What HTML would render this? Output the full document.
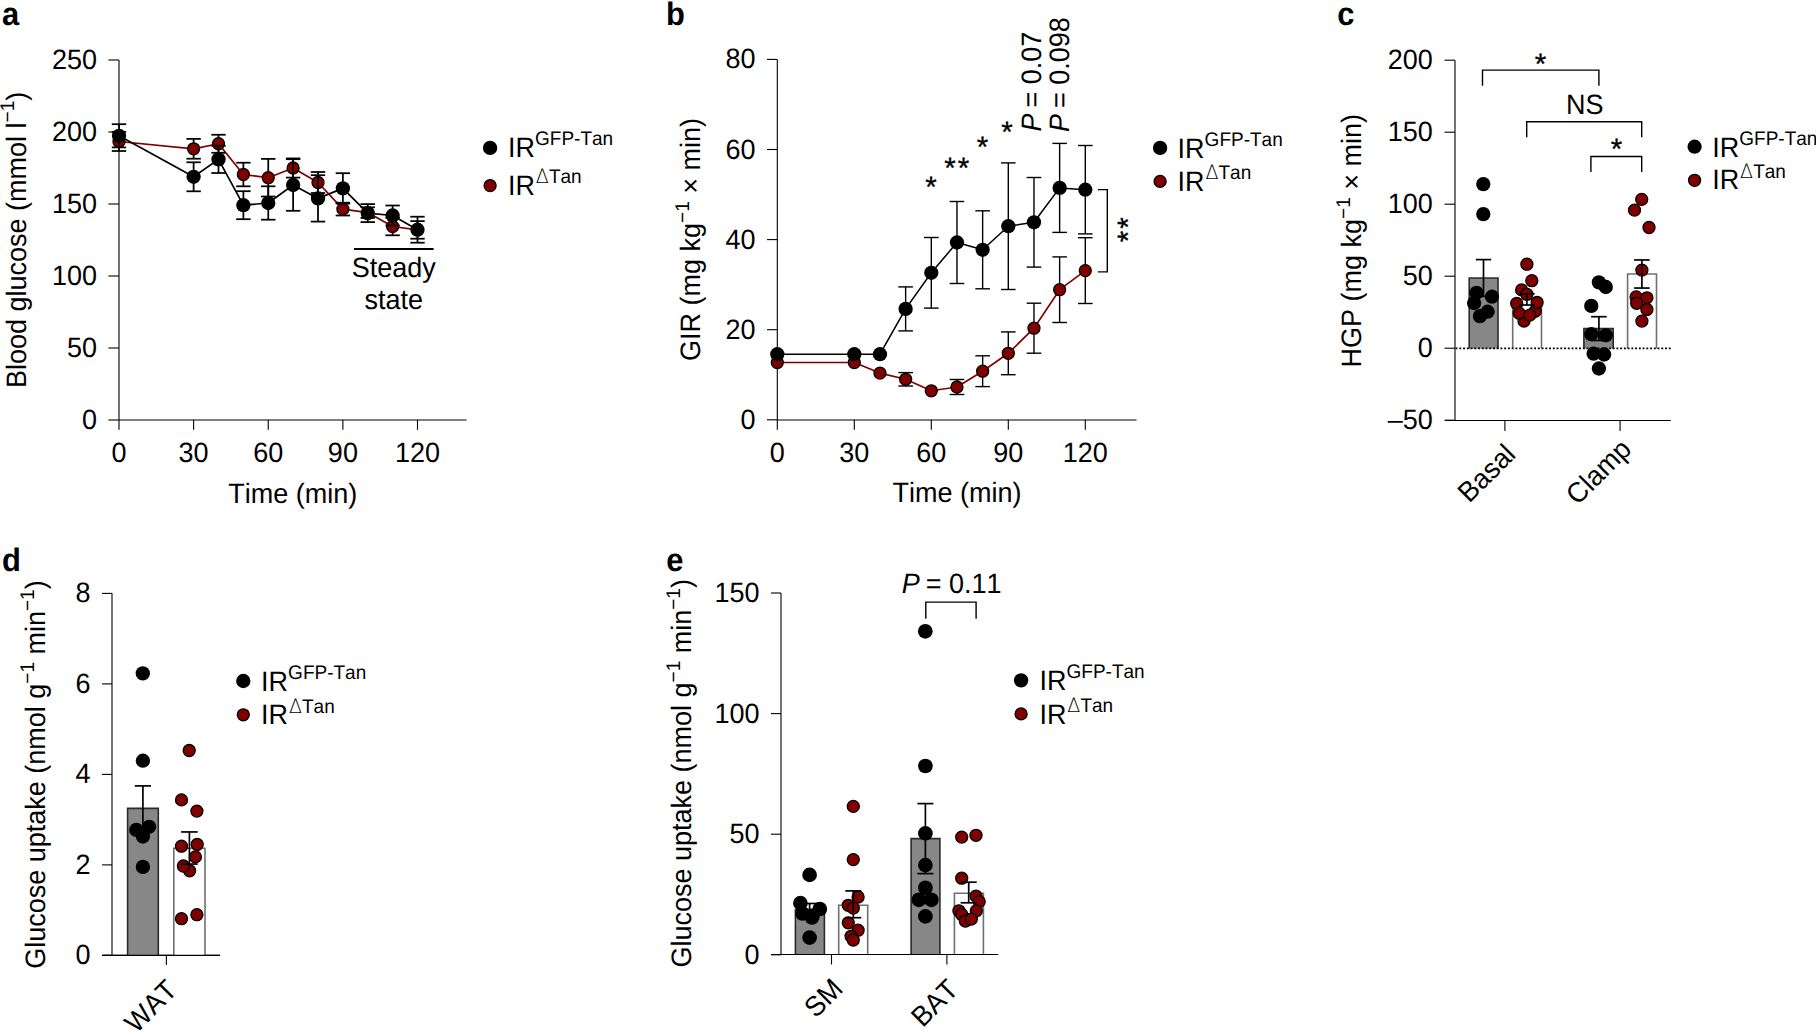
<!DOCTYPE html>
<html><head><meta charset="utf-8"><title>Figure</title>
<style>
html,body{margin:0;padding:0;background:#fff;}
body{width:1816px;height:1031px;overflow:hidden;}
svg{display:block;}
svg text{font-family:"Liberation Sans", Arial, Helvetica, sans-serif;fill:#000;font-kerning:none;font-feature-settings:"kern" 0;text-rendering:geometricPrecision;}
</style></head>
<body>
<svg width="1816" height="1031" viewBox="0 0 1816 1031">
<rect x="0" y="0" width="1816" height="1031" fill="#fff"/>
<text x="0" y="0" font-size="32.5" font-weight="bold" transform="translate(2 25) scale(0.95 1)">a</text>
<line x1="119" y1="60" x2="119" y2="420" stroke="#000" stroke-width="1.1"/>
<line x1="119" y1="420" x2="466.6" y2="420" stroke="#000" stroke-width="1.1"/>
<line x1="108.3" y1="420" x2="119" y2="420" stroke="#000" stroke-width="1.1"/>
<text font-size="27" text-anchor="end" transform="translate(97 429) scale(1 1.04)">0</text>
<line x1="108.3" y1="348" x2="119" y2="348" stroke="#000" stroke-width="1.1"/>
<text font-size="27" text-anchor="end" transform="translate(97 357) scale(1 1.04)">50</text>
<line x1="108.3" y1="276" x2="119" y2="276" stroke="#000" stroke-width="1.1"/>
<text font-size="27" text-anchor="end" transform="translate(97 285) scale(1 1.04)">100</text>
<line x1="108.3" y1="204" x2="119" y2="204" stroke="#000" stroke-width="1.1"/>
<text font-size="27" text-anchor="end" transform="translate(97 213) scale(1 1.04)">150</text>
<line x1="108.3" y1="132" x2="119" y2="132" stroke="#000" stroke-width="1.1"/>
<text font-size="27" text-anchor="end" transform="translate(97 141) scale(1 1.04)">200</text>
<line x1="108.3" y1="60" x2="119" y2="60" stroke="#000" stroke-width="1.1"/>
<text font-size="27" text-anchor="end" transform="translate(97 69) scale(1 1.04)">250</text>
<line x1="119" y1="420" x2="119" y2="429.8" stroke="#000" stroke-width="1.1"/>
<text font-size="27" text-anchor="middle" transform="translate(119 462) scale(1 1.04)">0</text>
<line x1="193.62" y1="420" x2="193.62" y2="429.8" stroke="#000" stroke-width="1.1"/>
<text font-size="27" text-anchor="middle" transform="translate(193.62 462) scale(1 1.04)">30</text>
<line x1="268.25" y1="420" x2="268.25" y2="429.8" stroke="#000" stroke-width="1.1"/>
<text font-size="27" text-anchor="middle" transform="translate(268.25 462) scale(1 1.04)">60</text>
<line x1="342.88" y1="420" x2="342.88" y2="429.8" stroke="#000" stroke-width="1.1"/>
<text font-size="27" text-anchor="middle" transform="translate(342.88 462) scale(1 1.04)">90</text>
<line x1="417.5" y1="420" x2="417.5" y2="429.8" stroke="#000" stroke-width="1.1"/>
<text font-size="27" text-anchor="middle" transform="translate(417.5 462) scale(1 1.04)">120</text>
<text font-size="27" text-anchor="middle" transform="translate(292.8 502.5) scale(1 1.04)">Time (min)</text>
<text font-size="27" text-anchor="middle" transform="translate(25.8 239.9) rotate(-90) scale(1 1.04)">Blood glucose (mmol l<tspan dy="-11.25" font-size="19">&#8722;1</tspan><tspan dy="11.25">)</tspan></text>
<polyline points="119,141.5 193.62,148.8 218.5,143.75 243.38,174.5 268.25,177.7 293.12,168 318,182.5 342.88,209.1 367.75,212.6 392.62,226.5 417.5,229.9" fill="none" stroke="#800000" stroke-width="1.7" stroke-linejoin="round"/>
<line x1="119" y1="132" x2="119" y2="151" stroke="#000" stroke-width="1.75"/>
<line x1="111.8" y1="132" x2="126.2" y2="132" stroke="#000" stroke-width="1.75"/>
<line x1="111.8" y1="151" x2="126.2" y2="151" stroke="#000" stroke-width="1.75"/>
<line x1="193.62" y1="138.9" x2="193.62" y2="158.7" stroke="#000" stroke-width="1.75"/>
<line x1="186.43" y1="138.9" x2="200.82" y2="138.9" stroke="#000" stroke-width="1.75"/>
<line x1="186.43" y1="158.7" x2="200.82" y2="158.7" stroke="#000" stroke-width="1.75"/>
<line x1="218.5" y1="134.75" x2="218.5" y2="152.75" stroke="#000" stroke-width="1.75"/>
<line x1="211.3" y1="134.75" x2="225.7" y2="134.75" stroke="#000" stroke-width="1.75"/>
<line x1="211.3" y1="152.75" x2="225.7" y2="152.75" stroke="#000" stroke-width="1.75"/>
<line x1="243.38" y1="162.7" x2="243.38" y2="186.3" stroke="#000" stroke-width="1.75"/>
<line x1="236.18" y1="162.7" x2="250.57" y2="162.7" stroke="#000" stroke-width="1.75"/>
<line x1="236.18" y1="186.3" x2="250.57" y2="186.3" stroke="#000" stroke-width="1.75"/>
<line x1="268.25" y1="158.9" x2="268.25" y2="196.5" stroke="#000" stroke-width="1.75"/>
<line x1="261.05" y1="158.9" x2="275.45" y2="158.9" stroke="#000" stroke-width="1.75"/>
<line x1="261.05" y1="196.5" x2="275.45" y2="196.5" stroke="#000" stroke-width="1.75"/>
<line x1="293.12" y1="158.4" x2="293.12" y2="177.6" stroke="#000" stroke-width="1.75"/>
<line x1="285.93" y1="158.4" x2="300.32" y2="158.4" stroke="#000" stroke-width="1.75"/>
<line x1="285.93" y1="177.6" x2="300.32" y2="177.6" stroke="#000" stroke-width="1.75"/>
<line x1="318" y1="172" x2="318" y2="193" stroke="#000" stroke-width="1.75"/>
<line x1="310.8" y1="172" x2="325.2" y2="172" stroke="#000" stroke-width="1.75"/>
<line x1="310.8" y1="193" x2="325.2" y2="193" stroke="#000" stroke-width="1.75"/>
<line x1="342.88" y1="202.7" x2="342.88" y2="215.5" stroke="#000" stroke-width="1.75"/>
<line x1="335.68" y1="202.7" x2="350.07" y2="202.7" stroke="#000" stroke-width="1.75"/>
<line x1="335.68" y1="215.5" x2="350.07" y2="215.5" stroke="#000" stroke-width="1.75"/>
<line x1="367.75" y1="207.3" x2="367.75" y2="217.9" stroke="#000" stroke-width="1.75"/>
<line x1="360.55" y1="207.3" x2="374.95" y2="207.3" stroke="#000" stroke-width="1.75"/>
<line x1="360.55" y1="217.9" x2="374.95" y2="217.9" stroke="#000" stroke-width="1.75"/>
<line x1="392.62" y1="217.7" x2="392.62" y2="235.3" stroke="#000" stroke-width="1.75"/>
<line x1="385.43" y1="217.7" x2="399.82" y2="217.7" stroke="#000" stroke-width="1.75"/>
<line x1="385.43" y1="235.3" x2="399.82" y2="235.3" stroke="#000" stroke-width="1.75"/>
<line x1="417.5" y1="221.1" x2="417.5" y2="238.7" stroke="#000" stroke-width="1.75"/>
<line x1="410.3" y1="221.1" x2="424.7" y2="221.1" stroke="#000" stroke-width="1.75"/>
<line x1="410.3" y1="238.7" x2="424.7" y2="238.7" stroke="#000" stroke-width="1.75"/>
<circle cx="119" cy="141.5" r="6.0" fill="#800000" stroke="#000" stroke-width="1.3"/>
<circle cx="193.62" cy="148.8" r="6.0" fill="#800000" stroke="#000" stroke-width="1.3"/>
<circle cx="218.5" cy="143.75" r="6.0" fill="#800000" stroke="#000" stroke-width="1.3"/>
<circle cx="243.38" cy="174.5" r="6.0" fill="#800000" stroke="#000" stroke-width="1.3"/>
<circle cx="268.25" cy="177.7" r="6.0" fill="#800000" stroke="#000" stroke-width="1.3"/>
<circle cx="293.12" cy="168" r="6.0" fill="#800000" stroke="#000" stroke-width="1.3"/>
<circle cx="318" cy="182.5" r="6.0" fill="#800000" stroke="#000" stroke-width="1.3"/>
<circle cx="342.88" cy="209.1" r="6.0" fill="#800000" stroke="#000" stroke-width="1.3"/>
<circle cx="367.75" cy="212.6" r="6.0" fill="#800000" stroke="#000" stroke-width="1.3"/>
<circle cx="392.62" cy="226.5" r="6.0" fill="#800000" stroke="#000" stroke-width="1.3"/>
<circle cx="417.5" cy="229.9" r="6.0" fill="#800000" stroke="#000" stroke-width="1.3"/>
<polyline points="119,135.8 193.62,176.8 218.5,159.4 243.38,205.2 268.25,203 293.12,185 318,198.4 342.88,188.4 367.75,213.1 392.62,215.5 417.5,229.7" fill="none" stroke="#000" stroke-width="1.7" stroke-linejoin="round"/>
<line x1="119" y1="124.2" x2="119" y2="147.4" stroke="#000" stroke-width="1.75"/>
<line x1="111.8" y1="124.2" x2="126.2" y2="124.2" stroke="#000" stroke-width="1.75"/>
<line x1="111.8" y1="147.4" x2="126.2" y2="147.4" stroke="#000" stroke-width="1.75"/>
<line x1="193.62" y1="162.3" x2="193.62" y2="191.3" stroke="#000" stroke-width="1.75"/>
<line x1="186.43" y1="162.3" x2="200.82" y2="162.3" stroke="#000" stroke-width="1.75"/>
<line x1="186.43" y1="191.3" x2="200.82" y2="191.3" stroke="#000" stroke-width="1.75"/>
<line x1="218.5" y1="145.8" x2="218.5" y2="173" stroke="#000" stroke-width="1.75"/>
<line x1="211.3" y1="145.8" x2="225.7" y2="145.8" stroke="#000" stroke-width="1.75"/>
<line x1="211.3" y1="173" x2="225.7" y2="173" stroke="#000" stroke-width="1.75"/>
<line x1="243.38" y1="191.2" x2="243.38" y2="219.2" stroke="#000" stroke-width="1.75"/>
<line x1="236.18" y1="191.2" x2="250.57" y2="191.2" stroke="#000" stroke-width="1.75"/>
<line x1="236.18" y1="219.2" x2="250.57" y2="219.2" stroke="#000" stroke-width="1.75"/>
<line x1="268.25" y1="186.3" x2="268.25" y2="219.7" stroke="#000" stroke-width="1.75"/>
<line x1="261.05" y1="186.3" x2="275.45" y2="186.3" stroke="#000" stroke-width="1.75"/>
<line x1="261.05" y1="219.7" x2="275.45" y2="219.7" stroke="#000" stroke-width="1.75"/>
<line x1="293.12" y1="159.2" x2="293.12" y2="210.8" stroke="#000" stroke-width="1.75"/>
<line x1="285.93" y1="159.2" x2="300.32" y2="159.2" stroke="#000" stroke-width="1.75"/>
<line x1="285.93" y1="210.8" x2="300.32" y2="210.8" stroke="#000" stroke-width="1.75"/>
<line x1="318" y1="175.2" x2="318" y2="221.6" stroke="#000" stroke-width="1.75"/>
<line x1="310.8" y1="175.2" x2="325.2" y2="175.2" stroke="#000" stroke-width="1.75"/>
<line x1="310.8" y1="221.6" x2="325.2" y2="221.6" stroke="#000" stroke-width="1.75"/>
<line x1="342.88" y1="173.2" x2="342.88" y2="203.6" stroke="#000" stroke-width="1.75"/>
<line x1="335.68" y1="173.2" x2="350.07" y2="173.2" stroke="#000" stroke-width="1.75"/>
<line x1="335.68" y1="203.6" x2="350.07" y2="203.6" stroke="#000" stroke-width="1.75"/>
<line x1="367.75" y1="204.1" x2="367.75" y2="222.1" stroke="#000" stroke-width="1.75"/>
<line x1="360.55" y1="204.1" x2="374.95" y2="204.1" stroke="#000" stroke-width="1.75"/>
<line x1="360.55" y1="222.1" x2="374.95" y2="222.1" stroke="#000" stroke-width="1.75"/>
<line x1="392.62" y1="205.5" x2="392.62" y2="225.5" stroke="#000" stroke-width="1.75"/>
<line x1="385.43" y1="205.5" x2="399.82" y2="205.5" stroke="#000" stroke-width="1.75"/>
<line x1="385.43" y1="225.5" x2="399.82" y2="225.5" stroke="#000" stroke-width="1.75"/>
<line x1="417.5" y1="216.7" x2="417.5" y2="242.7" stroke="#000" stroke-width="1.75"/>
<line x1="410.3" y1="216.7" x2="424.7" y2="216.7" stroke="#000" stroke-width="1.75"/>
<line x1="410.3" y1="242.7" x2="424.7" y2="242.7" stroke="#000" stroke-width="1.75"/>
<circle cx="119" cy="135.8" r="7.15" fill="#000"/>
<circle cx="193.62" cy="176.8" r="7.15" fill="#000"/>
<circle cx="218.5" cy="159.4" r="7.15" fill="#000"/>
<circle cx="243.38" cy="205.2" r="7.15" fill="#000"/>
<circle cx="268.25" cy="203" r="7.15" fill="#000"/>
<circle cx="293.12" cy="185" r="7.15" fill="#000"/>
<circle cx="318" cy="198.4" r="7.15" fill="#000"/>
<circle cx="342.88" cy="188.4" r="7.15" fill="#000"/>
<circle cx="367.75" cy="213.1" r="7.15" fill="#000"/>
<circle cx="392.62" cy="215.5" r="7.15" fill="#000"/>
<circle cx="417.5" cy="229.7" r="7.15" fill="#000"/>
<line x1="354" y1="248.9" x2="433.6" y2="248.9" stroke="#000" stroke-width="2"/>
<text font-size="27" text-anchor="middle" transform="translate(393.7 276.5) scale(1 1.04)">Steady</text>
<text font-size="27" text-anchor="middle" transform="translate(393.7 308.7) scale(1 1.04)">state</text>
<circle cx="490.1" cy="147.9" r="7.15" fill="#000"/>
<circle cx="490.1" cy="185.6" r="6.0" fill="#800000" stroke="#000" stroke-width="1.3"/>
<text font-size="27" transform="translate(508 157.1) scale(1 1.04)">IR<tspan dy="-11.44" font-size="19">GFP-Tan</tspan></text>
<text font-size="27" transform="translate(508 194.8) scale(1 1.04)">IR<tspan dy="-11.44" font-size="19" font-family="DejaVu Sans" font-weight="200" dx="0.8">&#916;</tspan><tspan font-size="19" dx="0.1">Tan</tspan></text>
<text x="0" y="0" font-size="32.5" font-weight="bold" transform="translate(666 25) scale(0.95 1)">b</text>
<line x1="777.3" y1="59.4" x2="777.3" y2="419.8" stroke="#000" stroke-width="1.1"/>
<line x1="777.3" y1="420" x2="1136.6" y2="420" stroke="#000" stroke-width="1.1"/>
<line x1="767" y1="419.8" x2="777.3" y2="419.8" stroke="#000" stroke-width="1.1"/>
<text font-size="27" text-anchor="end" transform="translate(755.5 428.8) scale(1 1.04)">0</text>
<line x1="767" y1="329.7" x2="777.3" y2="329.7" stroke="#000" stroke-width="1.1"/>
<text font-size="27" text-anchor="end" transform="translate(755.5 338.7) scale(1 1.04)">20</text>
<line x1="767" y1="239.6" x2="777.3" y2="239.6" stroke="#000" stroke-width="1.1"/>
<text font-size="27" text-anchor="end" transform="translate(755.5 248.6) scale(1 1.04)">40</text>
<line x1="767" y1="149.5" x2="777.3" y2="149.5" stroke="#000" stroke-width="1.1"/>
<text font-size="27" text-anchor="end" transform="translate(755.5 158.5) scale(1 1.04)">60</text>
<line x1="767" y1="59.4" x2="777.3" y2="59.4" stroke="#000" stroke-width="1.1"/>
<text font-size="27" text-anchor="end" transform="translate(755.5 68.4) scale(1 1.04)">80</text>
<line x1="777.3" y1="419.8" x2="777.3" y2="429.7" stroke="#000" stroke-width="1.1"/>
<text font-size="27" text-anchor="middle" transform="translate(777.3 462.1) scale(1 1.04)">0</text>
<line x1="854.3" y1="419.8" x2="854.3" y2="429.7" stroke="#000" stroke-width="1.1"/>
<text font-size="27" text-anchor="middle" transform="translate(854.3 462.1) scale(1 1.04)">30</text>
<line x1="931.3" y1="419.8" x2="931.3" y2="429.7" stroke="#000" stroke-width="1.1"/>
<text font-size="27" text-anchor="middle" transform="translate(931.3 462.1) scale(1 1.04)">60</text>
<line x1="1008.3" y1="419.8" x2="1008.3" y2="429.7" stroke="#000" stroke-width="1.1"/>
<text font-size="27" text-anchor="middle" transform="translate(1008.3 462.1) scale(1 1.04)">90</text>
<line x1="1085.3" y1="419.8" x2="1085.3" y2="429.7" stroke="#000" stroke-width="1.1"/>
<text font-size="27" text-anchor="middle" transform="translate(1085.3 462.1) scale(1 1.04)">120</text>
<text font-size="27" text-anchor="middle" transform="translate(957 502.4) scale(1 1.04)">Time (min)</text>
<text font-size="27" text-anchor="middle" transform="translate(700.3 239.5) rotate(-90) scale(1 1.04)">GIR (mg kg<tspan dy="-11.25" font-size="19">&#8722;1</tspan><tspan dy="11.25"> &#215; min)</tspan></text>
<polyline points="777.3,362.5 854.3,362.5 879.97,373.1 905.63,379.3 931.3,390.8 956.97,387 982.64,371.2 1008.3,353.3 1033.97,328.2 1059.64,289.7 1085.3,270.6" fill="none" stroke="#800000" stroke-width="1.65" stroke-linejoin="round"/>
<line x1="905.63" y1="372.6" x2="905.63" y2="386" stroke="#000" stroke-width="1.4"/>
<line x1="898.34" y1="372.6" x2="912.93" y2="372.6" stroke="#000" stroke-width="1.4"/>
<line x1="898.34" y1="386" x2="912.93" y2="386" stroke="#000" stroke-width="1.4"/>
<line x1="956.97" y1="379.5" x2="956.97" y2="394.5" stroke="#000" stroke-width="1.4"/>
<line x1="949.67" y1="379.5" x2="964.27" y2="379.5" stroke="#000" stroke-width="1.4"/>
<line x1="949.67" y1="394.5" x2="964.27" y2="394.5" stroke="#000" stroke-width="1.4"/>
<line x1="982.64" y1="355.8" x2="982.64" y2="386.6" stroke="#000" stroke-width="1.4"/>
<line x1="975.34" y1="355.8" x2="989.94" y2="355.8" stroke="#000" stroke-width="1.4"/>
<line x1="975.34" y1="386.6" x2="989.94" y2="386.6" stroke="#000" stroke-width="1.4"/>
<line x1="1008.3" y1="331.9" x2="1008.3" y2="374.7" stroke="#000" stroke-width="1.4"/>
<line x1="1001" y1="331.9" x2="1015.6" y2="331.9" stroke="#000" stroke-width="1.4"/>
<line x1="1001" y1="374.7" x2="1015.6" y2="374.7" stroke="#000" stroke-width="1.4"/>
<line x1="1033.97" y1="303.2" x2="1033.97" y2="353.2" stroke="#000" stroke-width="1.4"/>
<line x1="1026.67" y1="303.2" x2="1041.27" y2="303.2" stroke="#000" stroke-width="1.4"/>
<line x1="1026.67" y1="353.2" x2="1041.27" y2="353.2" stroke="#000" stroke-width="1.4"/>
<line x1="1059.64" y1="256.9" x2="1059.64" y2="322.5" stroke="#000" stroke-width="1.4"/>
<line x1="1052.34" y1="256.9" x2="1066.94" y2="256.9" stroke="#000" stroke-width="1.4"/>
<line x1="1052.34" y1="322.5" x2="1066.94" y2="322.5" stroke="#000" stroke-width="1.4"/>
<line x1="1085.3" y1="237.7" x2="1085.3" y2="303.5" stroke="#000" stroke-width="1.4"/>
<line x1="1078" y1="237.7" x2="1092.6" y2="237.7" stroke="#000" stroke-width="1.4"/>
<line x1="1078" y1="303.5" x2="1092.6" y2="303.5" stroke="#000" stroke-width="1.4"/>
<circle cx="777.3" cy="362.5" r="6.0" fill="#800000" stroke="#000" stroke-width="1.3"/>
<circle cx="854.3" cy="362.5" r="6.0" fill="#800000" stroke="#000" stroke-width="1.3"/>
<circle cx="879.97" cy="373.1" r="6.0" fill="#800000" stroke="#000" stroke-width="1.3"/>
<circle cx="905.63" cy="379.3" r="6.0" fill="#800000" stroke="#000" stroke-width="1.3"/>
<circle cx="931.3" cy="390.8" r="6.0" fill="#800000" stroke="#000" stroke-width="1.3"/>
<circle cx="956.97" cy="387" r="6.0" fill="#800000" stroke="#000" stroke-width="1.3"/>
<circle cx="982.64" cy="371.2" r="6.0" fill="#800000" stroke="#000" stroke-width="1.3"/>
<circle cx="1008.3" cy="353.3" r="6.0" fill="#800000" stroke="#000" stroke-width="1.3"/>
<circle cx="1033.97" cy="328.2" r="6.0" fill="#800000" stroke="#000" stroke-width="1.3"/>
<circle cx="1059.64" cy="289.7" r="6.0" fill="#800000" stroke="#000" stroke-width="1.3"/>
<circle cx="1085.3" cy="270.6" r="6.0" fill="#800000" stroke="#000" stroke-width="1.3"/>
<polyline points="777.3,354.2 854.3,354.2 879.97,354.2 905.63,308.9 931.3,272.8 956.97,242.5 982.64,249.8 1008.3,226.2 1033.97,222.3 1059.64,187.9 1085.3,189.7" fill="none" stroke="#000" stroke-width="1.55" stroke-linejoin="round"/>
<line x1="905.63" y1="286.9" x2="905.63" y2="330.9" stroke="#000" stroke-width="1.4"/>
<line x1="898.34" y1="286.9" x2="912.93" y2="286.9" stroke="#000" stroke-width="1.4"/>
<line x1="898.34" y1="330.9" x2="912.93" y2="330.9" stroke="#000" stroke-width="1.4"/>
<line x1="931.3" y1="237.5" x2="931.3" y2="308.1" stroke="#000" stroke-width="1.4"/>
<line x1="924" y1="237.5" x2="938.6" y2="237.5" stroke="#000" stroke-width="1.4"/>
<line x1="924" y1="308.1" x2="938.6" y2="308.1" stroke="#000" stroke-width="1.4"/>
<line x1="956.97" y1="201.5" x2="956.97" y2="283.5" stroke="#000" stroke-width="1.4"/>
<line x1="949.67" y1="201.5" x2="964.27" y2="201.5" stroke="#000" stroke-width="1.4"/>
<line x1="949.67" y1="283.5" x2="964.27" y2="283.5" stroke="#000" stroke-width="1.4"/>
<line x1="982.64" y1="210.8" x2="982.64" y2="288.8" stroke="#000" stroke-width="1.4"/>
<line x1="975.34" y1="210.8" x2="989.94" y2="210.8" stroke="#000" stroke-width="1.4"/>
<line x1="975.34" y1="288.8" x2="989.94" y2="288.8" stroke="#000" stroke-width="1.4"/>
<line x1="1008.3" y1="162.9" x2="1008.3" y2="289.5" stroke="#000" stroke-width="1.4"/>
<line x1="1001" y1="162.9" x2="1015.6" y2="162.9" stroke="#000" stroke-width="1.4"/>
<line x1="1001" y1="289.5" x2="1015.6" y2="289.5" stroke="#000" stroke-width="1.4"/>
<line x1="1033.97" y1="177.5" x2="1033.97" y2="267.1" stroke="#000" stroke-width="1.4"/>
<line x1="1026.67" y1="177.5" x2="1041.27" y2="177.5" stroke="#000" stroke-width="1.4"/>
<line x1="1026.67" y1="267.1" x2="1041.27" y2="267.1" stroke="#000" stroke-width="1.4"/>
<line x1="1059.64" y1="143.4" x2="1059.64" y2="232.4" stroke="#000" stroke-width="1.4"/>
<line x1="1052.34" y1="143.4" x2="1066.94" y2="143.4" stroke="#000" stroke-width="1.4"/>
<line x1="1052.34" y1="232.4" x2="1066.94" y2="232.4" stroke="#000" stroke-width="1.4"/>
<line x1="1085.3" y1="145.5" x2="1085.3" y2="233.9" stroke="#000" stroke-width="1.4"/>
<line x1="1078" y1="145.5" x2="1092.6" y2="145.5" stroke="#000" stroke-width="1.4"/>
<line x1="1078" y1="233.9" x2="1092.6" y2="233.9" stroke="#000" stroke-width="1.4"/>
<circle cx="777.3" cy="354.2" r="7.15" fill="#000"/>
<circle cx="854.3" cy="354.2" r="7.15" fill="#000"/>
<circle cx="879.97" cy="354.2" r="7.15" fill="#000"/>
<circle cx="905.63" cy="308.9" r="7.15" fill="#000"/>
<circle cx="931.3" cy="272.8" r="7.15" fill="#000"/>
<circle cx="956.97" cy="242.5" r="7.15" fill="#000"/>
<circle cx="982.64" cy="249.8" r="7.15" fill="#000"/>
<circle cx="1008.3" cy="226.2" r="7.15" fill="#000"/>
<circle cx="1033.97" cy="222.3" r="7.15" fill="#000"/>
<circle cx="1059.64" cy="187.9" r="7.15" fill="#000"/>
<circle cx="1085.3" cy="189.7" r="7.15" fill="#000"/>
<text font-size="29.5" text-anchor="middle" transform="translate(931 197.12)" stroke="#000" stroke-width="0.35">*</text>
<text font-size="29.5" text-anchor="middle" transform="translate(950 178.02)" stroke="#000" stroke-width="0.35">*</text>
<text font-size="29.5" text-anchor="middle" transform="translate(963.6 178.02)" stroke="#000" stroke-width="0.35">*</text>
<text font-size="29.5" text-anchor="middle" transform="translate(982.6 156.92)" stroke="#000" stroke-width="0.35">*</text>
<text font-size="29.5" text-anchor="middle" transform="translate(1006.9 142.02)" stroke="#000" stroke-width="0.35">*</text>
<text font-size="27" transform="translate(1040.5 131.5) rotate(-90) scale(1 1.04)"><tspan font-style="italic">P</tspan><tspan dx="-1.5"> = 0.07</tspan></text>
<text font-size="27" transform="translate(1069.3 132) rotate(-90) scale(1 1.04)"><tspan font-style="italic">P</tspan><tspan dx="-1.5"> = 0.098</tspan></text>
<polyline points="1098.6,189.6 1107.3,189.6 1107.3,271.9 1098.6,271.9" fill="none" stroke="#000" stroke-width="1.4" stroke-linejoin="miter" stroke-linecap="square"/>
<text font-size="29.5" text-anchor="middle" transform="translate(1138.12 223) rotate(-90)" stroke="#000" stroke-width="0.35">*</text>
<text font-size="29.5" text-anchor="middle" transform="translate(1138.12 236.6) rotate(-90)" stroke="#000" stroke-width="0.35">*</text>
<circle cx="1160.1" cy="147.9" r="7.15" fill="#000"/>
<circle cx="1160.1" cy="181.4" r="6.0" fill="#800000" stroke="#000" stroke-width="1.3"/>
<text font-size="27" transform="translate(1177.6 157.6) scale(1 1.04)">IR<tspan dy="-11.44" font-size="19">GFP-Tan</tspan></text>
<text font-size="27" transform="translate(1177.6 190.6) scale(1 1.04)">IR<tspan dy="-11.44" font-size="19" font-family="DejaVu Sans" font-weight="200" dx="0.8">&#916;</tspan><tspan font-size="19" dx="0.1">Tan</tspan></text>
<text x="0" y="0" font-size="32.5" font-weight="bold" transform="translate(1337.2 25) scale(0.95 1)">c</text>
<line x1="1455" y1="60.2" x2="1455" y2="420.5" stroke="#000" stroke-width="1.1"/>
<line x1="1445.2" y1="420.5" x2="1670.9" y2="420.5" stroke="#000" stroke-width="1.1"/>
<line x1="1444.5" y1="420.2" x2="1455" y2="420.2" stroke="#000" stroke-width="1.1"/>
<text font-size="27" text-anchor="end" transform="translate(1432.8 429.2) scale(1 1.04)"><tspan dy="-0.3">&#8211;</tspan><tspan dy="0.3">50</tspan></text>
<line x1="1444.5" y1="348.2" x2="1455" y2="348.2" stroke="#000" stroke-width="1.1"/>
<text font-size="27" text-anchor="end" transform="translate(1432.8 357.2) scale(1 1.04)">0</text>
<line x1="1444.5" y1="276.2" x2="1455" y2="276.2" stroke="#000" stroke-width="1.1"/>
<text font-size="27" text-anchor="end" transform="translate(1432.8 285.2) scale(1 1.04)">50</text>
<line x1="1444.5" y1="204.2" x2="1455" y2="204.2" stroke="#000" stroke-width="1.1"/>
<text font-size="27" text-anchor="end" transform="translate(1432.8 213.2) scale(1 1.04)">100</text>
<line x1="1444.5" y1="132.2" x2="1455" y2="132.2" stroke="#000" stroke-width="1.1"/>
<text font-size="27" text-anchor="end" transform="translate(1432.8 141.2) scale(1 1.04)">150</text>
<line x1="1444.5" y1="60.2" x2="1455" y2="60.2" stroke="#000" stroke-width="1.1"/>
<text font-size="27" text-anchor="end" transform="translate(1432.8 69.2) scale(1 1.04)">200</text>
<line x1="1504.9" y1="420.5" x2="1504.9" y2="430.9" stroke="#000" stroke-width="1.1"/>
<line x1="1620.1" y1="420.5" x2="1620.1" y2="430.9" stroke="#000" stroke-width="1.1"/>
<text font-size="27" text-anchor="middle" transform="translate(1361.4 240.7) rotate(-90) scale(1 1.04)">HGP (mg kg<tspan dy="-11.25" font-size="19">&#8722;1</tspan><tspan dy="11.25"> &#215; min)</tspan></text>
<rect x="1469.2" y="278" width="28.8" height="70.6" fill="#878787"/>
<path d="M1469.2 348.6V278H1498V348.6" fill="none" stroke="#2a2a2a" stroke-width="1.6"/>
<rect x="1512.7" y="299.4" width="28.8" height="49.2" fill="#fff"/>
<path d="M1512.7 348.6V299.4H1541.5V348.6" fill="none" stroke="#707070" stroke-width="1.6"/>
<rect x="1583.9" y="328.6" width="29.3" height="20" fill="#878787"/>
<path d="M1583.9 348.6V328.6H1613.2V348.6" fill="none" stroke="#2a2a2a" stroke-width="1.6"/>
<rect x="1627.6" y="274" width="28.9" height="74.6" fill="#fff"/>
<path d="M1627.6 348.6V274H1656.5V348.6" fill="none" stroke="#707070" stroke-width="1.6"/>
<line x1="1455.6" y1="348.4" x2="1672" y2="348.4" stroke="#000" stroke-width="1.6" stroke-dasharray="1.9 1.84"/>
<line x1="1483.5" y1="259.6" x2="1483.5" y2="296.4" stroke="#000" stroke-width="1.7"/>
<line x1="1475.8" y1="259.6" x2="1491.2" y2="259.6" stroke="#000" stroke-width="1.7"/>
<line x1="1475.8" y1="296.4" x2="1491.2" y2="296.4" stroke="#000" stroke-width="1.7"/>
<circle cx="1483.3" cy="184.1" r="7.15" fill="#000"/>
<circle cx="1483.3" cy="214.1" r="7.15" fill="#000"/>
<circle cx="1476.5" cy="292.8" r="7.15" fill="#000"/>
<circle cx="1492" cy="296.7" r="7.15" fill="#000"/>
<circle cx="1474.1" cy="303" r="7.15" fill="#000"/>
<circle cx="1487.6" cy="311.7" r="7.15" fill="#000"/>
<circle cx="1479.9" cy="316.1" r="7.15" fill="#000"/>
<circle cx="1526.9" cy="264.2" r="6.0" fill="#800000" stroke="#000" stroke-width="1.3"/>
<circle cx="1531.8" cy="280.7" r="6.0" fill="#800000" stroke="#000" stroke-width="1.3"/>
<circle cx="1521.6" cy="289.9" r="6.0" fill="#800000" stroke="#000" stroke-width="1.3"/>
<circle cx="1526.9" cy="294.3" r="6.0" fill="#800000" stroke="#000" stroke-width="1.3"/>
<circle cx="1535.2" cy="311.3" r="6.0" fill="#800000" stroke="#000" stroke-width="1.3"/>
<circle cx="1524" cy="321" r="6.0" fill="#800000" stroke="#000" stroke-width="1.3"/>
<circle cx="1516.7" cy="303.5" r="6.0" fill="#800000" stroke="#000" stroke-width="1.3"/>
<circle cx="1537.1" cy="302.5" r="6.0" fill="#800000" stroke="#000" stroke-width="1.3"/>
<circle cx="1519.2" cy="313.2" r="6.0" fill="#800000" stroke="#000" stroke-width="1.3"/>
<circle cx="1529.8" cy="315.1" r="6.0" fill="#800000" stroke="#000" stroke-width="1.3"/>
<line x1="1526.9" y1="293.8" x2="1526.9" y2="305" stroke="#000" stroke-width="1.7"/>
<line x1="1519.2" y1="293.8" x2="1534.6" y2="293.8" stroke="#000" stroke-width="1.7"/>
<line x1="1519.2" y1="305" x2="1534.6" y2="305" stroke="#000" stroke-width="1.7"/>
<line x1="1598.9" y1="316.7" x2="1598.9" y2="340.5" stroke="#000" stroke-width="1.7"/>
<line x1="1591.1" y1="316.7" x2="1606.7" y2="316.7" stroke="#000" stroke-width="1.7"/>
<line x1="1591.1" y1="340.5" x2="1606.7" y2="340.5" stroke="#000" stroke-width="1.7"/>
<circle cx="1598.9" cy="282.4" r="7.15" fill="#000"/>
<circle cx="1605.8" cy="287" r="7.15" fill="#000"/>
<circle cx="1591.3" cy="305.9" r="7.15" fill="#000"/>
<circle cx="1591.3" cy="334.2" r="7.15" fill="#000"/>
<circle cx="1605.8" cy="335.3" r="7.15" fill="#000"/>
<circle cx="1593.6" cy="353.7" r="7.15" fill="#000"/>
<circle cx="1604.1" cy="354.5" r="7.15" fill="#000"/>
<circle cx="1598.9" cy="368.5" r="7.15" fill="#000"/>
<circle cx="1641.7" cy="199.4" r="6.0" fill="#800000" stroke="#000" stroke-width="1.3"/>
<circle cx="1634.5" cy="210.1" r="6.0" fill="#800000" stroke="#000" stroke-width="1.3"/>
<circle cx="1649" cy="227.5" r="6.0" fill="#800000" stroke="#000" stroke-width="1.3"/>
<circle cx="1641.9" cy="270.1" r="6.0" fill="#800000" stroke="#000" stroke-width="1.3"/>
<circle cx="1636.1" cy="296.9" r="6.0" fill="#800000" stroke="#000" stroke-width="1.3"/>
<circle cx="1646.9" cy="297.8" r="6.0" fill="#800000" stroke="#000" stroke-width="1.3"/>
<circle cx="1636.7" cy="303.3" r="6.0" fill="#800000" stroke="#000" stroke-width="1.3"/>
<circle cx="1646.9" cy="309.5" r="6.0" fill="#800000" stroke="#000" stroke-width="1.3"/>
<circle cx="1641.9" cy="321.1" r="6.0" fill="#800000" stroke="#000" stroke-width="1.3"/>
<line x1="1641.9" y1="259.95" x2="1641.9" y2="288.05" stroke="#000" stroke-width="1.7"/>
<line x1="1634.1" y1="259.95" x2="1649.7" y2="259.95" stroke="#000" stroke-width="1.7"/>
<line x1="1634.1" y1="288.05" x2="1649.7" y2="288.05" stroke="#000" stroke-width="1.7"/>
<polyline points="1482.5,85.1 1482.5,70.1 1598.9,70.1 1598.9,85.1" fill="none" stroke="#000" stroke-width="1.4" stroke-linejoin="miter" stroke-linecap="square"/>
<text font-size="29.5" text-anchor="middle" transform="translate(1540.6 73.72)" stroke="#000" stroke-width="0.35">*</text>
<polyline points="1526.7,136.5 1526.7,121.8 1641.7,121.8 1641.7,136.5" fill="none" stroke="#000" stroke-width="1.4" stroke-linejoin="miter" stroke-linecap="square"/>
<text font-size="27" text-anchor="middle" transform="translate(1584.7 113.7) scale(1 1.04)">NS</text>
<polyline points="1590.9,171.3 1590.9,156.5 1641.7,156.5 1641.7,171.3" fill="none" stroke="#000" stroke-width="1.4" stroke-linejoin="miter" stroke-linecap="square"/>
<text font-size="29.5" text-anchor="middle" transform="translate(1616.4 159.42)" stroke="#000" stroke-width="0.35">*</text>
<text font-size="27" text-anchor="end" transform="translate(1517.1 456) rotate(-45) scale(1 1.04)">Basal</text>
<text font-size="27" text-anchor="end" transform="translate(1632.8 450.8) rotate(-45) scale(1 1.04)">Clamp</text>
<circle cx="1694.6" cy="146.7" r="7.15" fill="#000"/>
<circle cx="1694.6" cy="180.3" r="6.0" fill="#800000" stroke="#000" stroke-width="1.3"/>
<text font-size="27" transform="translate(1712.3 156.7) scale(1 1.04)">IR<tspan dy="-11.44" font-size="19">GFP-Tan</tspan></text>
<text font-size="27" transform="translate(1712.3 189.4) scale(1 1.04)">IR<tspan dy="-11.44" font-size="19" font-family="DejaVu Sans" font-weight="200" dx="0.8">&#916;</tspan><tspan font-size="19" dx="0.1">Tan</tspan></text>
<text x="0" y="0" font-size="32.5" font-weight="bold" transform="translate(2 571.2) scale(0.95 1)">d</text>
<line x1="112" y1="593.3" x2="112" y2="955.4" stroke="#000" stroke-width="1.1"/>
<line x1="102.3" y1="955.4" x2="220" y2="955.4" stroke="#000" stroke-width="1.1"/>
<line x1="102" y1="955.4" x2="112" y2="955.4" stroke="#000" stroke-width="1.1"/>
<text font-size="27" text-anchor="end" transform="translate(90.5 964.4) scale(1 1.04)">0</text>
<line x1="102" y1="864.9" x2="112" y2="864.9" stroke="#000" stroke-width="1.1"/>
<text font-size="27" text-anchor="end" transform="translate(90.5 873.9) scale(1 1.04)">2</text>
<line x1="102" y1="774.4" x2="112" y2="774.4" stroke="#000" stroke-width="1.1"/>
<text font-size="27" text-anchor="end" transform="translate(90.5 783.4) scale(1 1.04)">4</text>
<line x1="102" y1="683.9" x2="112" y2="683.9" stroke="#000" stroke-width="1.1"/>
<text font-size="27" text-anchor="end" transform="translate(90.5 692.9) scale(1 1.04)">6</text>
<line x1="102" y1="593.4" x2="112" y2="593.4" stroke="#000" stroke-width="1.1"/>
<text font-size="27" text-anchor="end" transform="translate(90.5 602.4) scale(1 1.04)">8</text>
<line x1="166.4" y1="955.4" x2="166.4" y2="964.9" stroke="#000" stroke-width="1.1"/>
<text font-size="27" text-anchor="middle" transform="translate(45.4 774.6) rotate(-90) scale(1 1.04)">Glucose uptake (nmol g<tspan dy="-11.25" font-size="19">&#8722;1</tspan><tspan dy="11.25"> min</tspan><tspan dy="-11.25" font-size="19">&#8722;1</tspan><tspan dy="11.25">)</tspan></text>
<rect x="127.6" y="808.4" width="30.7" height="147" fill="#878787"/>
<path d="M127.6 955.4V808.4H158.3V955.4" fill="none" stroke="#2a2a2a" stroke-width="1.6"/>
<rect x="173.8" y="848.3" width="31.2" height="107.1" fill="#fff"/>
<path d="M173.8 955.4V848.3H205V955.4" fill="none" stroke="#707070" stroke-width="1.6"/>
<line x1="142.9" y1="785.9" x2="142.9" y2="830.9" stroke="#000" stroke-width="1.7"/>
<line x1="134.8" y1="785.9" x2="151" y2="785.9" stroke="#000" stroke-width="1.7"/>
<line x1="134.8" y1="830.9" x2="151" y2="830.9" stroke="#000" stroke-width="1.7"/>
<circle cx="142.8" cy="673.4" r="7.15" fill="#000"/>
<circle cx="142.9" cy="760.7" r="7.15" fill="#000"/>
<circle cx="136.3" cy="829.9" r="7.15" fill="#000"/>
<circle cx="149.1" cy="826.8" r="7.15" fill="#000"/>
<circle cx="142.9" cy="836.5" r="7.15" fill="#000"/>
<circle cx="142.9" cy="866.9" r="7.15" fill="#000"/>
<circle cx="189.2" cy="750.5" r="6.0" fill="#800000" stroke="#000" stroke-width="1.3"/>
<circle cx="181.5" cy="799.9" r="6.0" fill="#800000" stroke="#000" stroke-width="1.3"/>
<circle cx="196.9" cy="811.1" r="6.0" fill="#800000" stroke="#000" stroke-width="1.3"/>
<circle cx="181.5" cy="846.2" r="6.0" fill="#800000" stroke="#000" stroke-width="1.3"/>
<circle cx="197.2" cy="844.5" r="6.0" fill="#800000" stroke="#000" stroke-width="1.3"/>
<circle cx="195.4" cy="856.9" r="6.0" fill="#800000" stroke="#000" stroke-width="1.3"/>
<circle cx="189.6" cy="870.8" r="6.0" fill="#800000" stroke="#000" stroke-width="1.3"/>
<circle cx="183.4" cy="866" r="6.0" fill="#800000" stroke="#000" stroke-width="1.3"/>
<circle cx="181.5" cy="918.7" r="6.0" fill="#800000" stroke="#000" stroke-width="1.3"/>
<circle cx="196.9" cy="914.7" r="6.0" fill="#800000" stroke="#000" stroke-width="1.3"/>
<line x1="189.4" y1="831.95" x2="189.4" y2="864.05" stroke="#000" stroke-width="1.7"/>
<line x1="181.1" y1="831.95" x2="197.7" y2="831.95" stroke="#000" stroke-width="1.7"/>
<line x1="181.1" y1="864.05" x2="197.7" y2="864.05" stroke="#000" stroke-width="1.7"/>
<line x1="102.3" y1="955.4" x2="220" y2="955.4" stroke="#000" stroke-width="1.1"/>
<text font-size="27" text-anchor="end" transform="translate(178.7 991.7) rotate(-45) scale(1 1.04)">WAT</text>
<circle cx="243.3" cy="681" r="7.15" fill="#000"/>
<circle cx="243.3" cy="714.8" r="6.0" fill="#800000" stroke="#000" stroke-width="1.3"/>
<text font-size="27" transform="translate(261.1 691) scale(1 1.04)">IR<tspan dy="-11.44" font-size="19">GFP-Tan</tspan></text>
<text font-size="27" transform="translate(261.1 724.4) scale(1 1.04)">IR<tspan dy="-11.44" font-size="19" font-family="DejaVu Sans" font-weight="200" dx="0.8">&#916;</tspan><tspan font-size="19" dx="0.1">Tan</tspan></text>
<text x="0" y="0" font-size="32.5" font-weight="bold" transform="translate(666.3 571.2) scale(0.95 1)">e</text>
<line x1="781" y1="593" x2="781" y2="954.8" stroke="#000" stroke-width="1.1"/>
<line x1="771" y1="954.5" x2="998.2" y2="954.5" stroke="#000" stroke-width="1.1"/>
<line x1="771" y1="954.8" x2="781" y2="954.8" stroke="#000" stroke-width="1.1"/>
<text font-size="27" text-anchor="end" transform="translate(759.5 963.8) scale(1 1.04)">0</text>
<line x1="771" y1="834.2" x2="781" y2="834.2" stroke="#000" stroke-width="1.1"/>
<text font-size="27" text-anchor="end" transform="translate(759.5 843.2) scale(1 1.04)">50</text>
<line x1="771" y1="713.6" x2="781" y2="713.6" stroke="#000" stroke-width="1.1"/>
<text font-size="27" text-anchor="end" transform="translate(759.5 722.6) scale(1 1.04)">100</text>
<line x1="771" y1="593" x2="781" y2="593" stroke="#000" stroke-width="1.1"/>
<text font-size="27" text-anchor="end" transform="translate(759.5 602) scale(1 1.04)">150</text>
<line x1="831.5" y1="954.5" x2="831.5" y2="964.5" stroke="#000" stroke-width="1.1"/>
<line x1="946.9" y1="954.5" x2="946.9" y2="964.5" stroke="#000" stroke-width="1.1"/>
<text font-size="27" text-anchor="middle" transform="translate(691.3 773.3) rotate(-90) scale(1 1.04)">Glucose uptake (nmol g<tspan dy="-11.25" font-size="19">&#8722;1</tspan><tspan dy="11.25"> min</tspan><tspan dy="-11.25" font-size="19">&#8722;1</tspan><tspan dy="11.25">)</tspan></text>
<rect x="795.4" y="909.9" width="29" height="44.6" fill="#878787"/>
<path d="M795.4 954.5V909.9H824.4V954.5" fill="none" stroke="#2a2a2a" stroke-width="1.6"/>
<rect x="838.7" y="905.3" width="29" height="49.2" fill="#fff"/>
<path d="M838.7 954.5V905.3H867.7V954.5" fill="none" stroke="#707070" stroke-width="1.6"/>
<rect x="911.1" y="838.6" width="28.8" height="115.9" fill="#878787"/>
<path d="M911.1 954.5V838.6H939.9V954.5" fill="none" stroke="#2a2a2a" stroke-width="1.6"/>
<rect x="954.4" y="893.3" width="29" height="61.2" fill="#fff"/>
<path d="M954.4 954.5V893.3H983.4V954.5" fill="none" stroke="#707070" stroke-width="1.6"/>
<line x1="809.6" y1="903.5" x2="809.6" y2="916.3" stroke="#000" stroke-width="1.7"/>
<line x1="801.6" y1="903.5" x2="817.6" y2="903.5" stroke="#000" stroke-width="1.7"/>
<line x1="801.6" y1="916.3" x2="817.6" y2="916.3" stroke="#000" stroke-width="1.7"/>
<circle cx="809.6" cy="874.9" r="7.35" fill="#000"/>
<circle cx="802.5" cy="913.5" r="7.35" fill="#000"/>
<circle cx="812" cy="917.5" r="7.35" fill="#000"/>
<circle cx="800.4" cy="903.1" r="7.35" fill="#000"/>
<circle cx="819.8" cy="909" r="7.35" fill="#000"/>
<circle cx="812.4" cy="915.5" r="7.35" fill="#000"/>
<circle cx="809.6" cy="937.6" r="7.35" fill="#000"/>
<circle cx="853.3" cy="806.4" r="6.0" fill="#800000" stroke="#000" stroke-width="1.3"/>
<circle cx="853.3" cy="859.6" r="6.0" fill="#800000" stroke="#000" stroke-width="1.3"/>
<circle cx="858.1" cy="897" r="6.0" fill="#800000" stroke="#000" stroke-width="1.3"/>
<circle cx="848.3" cy="905.3" r="6.0" fill="#800000" stroke="#000" stroke-width="1.3"/>
<circle cx="853.3" cy="908.1" r="6.0" fill="#800000" stroke="#000" stroke-width="1.3"/>
<circle cx="848.3" cy="922.8" r="6.0" fill="#800000" stroke="#000" stroke-width="1.3"/>
<circle cx="858.1" cy="930.2" r="6.0" fill="#800000" stroke="#000" stroke-width="1.3"/>
<circle cx="851.1" cy="936.3" r="6.0" fill="#800000" stroke="#000" stroke-width="1.3"/>
<circle cx="853.3" cy="940" r="6.0" fill="#800000" stroke="#000" stroke-width="1.3"/>
<line x1="853.3" y1="890.9" x2="853.3" y2="917.7" stroke="#000" stroke-width="1.7"/>
<line x1="845.3" y1="890.9" x2="861.3" y2="890.9" stroke="#000" stroke-width="1.7"/>
<line x1="845.3" y1="917.7" x2="861.3" y2="917.7" stroke="#000" stroke-width="1.7"/>
<line x1="925.4" y1="803.6" x2="925.4" y2="873.6" stroke="#000" stroke-width="1.7"/>
<line x1="917.4" y1="803.6" x2="933.4" y2="803.6" stroke="#000" stroke-width="1.7"/>
<line x1="917.4" y1="873.6" x2="933.4" y2="873.6" stroke="#000" stroke-width="1.7"/>
<circle cx="925.3" cy="631.3" r="7.35" fill="#000"/>
<circle cx="925.4" cy="766" r="7.35" fill="#000"/>
<circle cx="925.4" cy="833.4" r="7.35" fill="#000"/>
<circle cx="925.4" cy="865.1" r="7.35" fill="#000"/>
<circle cx="925.4" cy="887.8" r="7.35" fill="#000"/>
<circle cx="918.9" cy="899.8" r="7.35" fill="#000"/>
<circle cx="931.3" cy="899.8" r="7.35" fill="#000"/>
<circle cx="925.4" cy="916.4" r="7.35" fill="#000"/>
<circle cx="961.7" cy="837.1" r="6.0" fill="#800000" stroke="#000" stroke-width="1.3"/>
<circle cx="976" cy="835.3" r="6.0" fill="#800000" stroke="#000" stroke-width="1.3"/>
<circle cx="961.7" cy="878.2" r="6.0" fill="#800000" stroke="#000" stroke-width="1.3"/>
<circle cx="976" cy="896.1" r="6.0" fill="#800000" stroke="#000" stroke-width="1.3"/>
<circle cx="979.2" cy="901.6" r="6.0" fill="#800000" stroke="#000" stroke-width="1.3"/>
<circle cx="958.9" cy="910.8" r="6.0" fill="#800000" stroke="#000" stroke-width="1.3"/>
<circle cx="976.4" cy="910.8" r="6.0" fill="#800000" stroke="#000" stroke-width="1.3"/>
<circle cx="961.7" cy="914.5" r="6.0" fill="#800000" stroke="#000" stroke-width="1.3"/>
<circle cx="965.4" cy="921" r="6.0" fill="#800000" stroke="#000" stroke-width="1.3"/>
<circle cx="971.3" cy="919.1" r="6.0" fill="#800000" stroke="#000" stroke-width="1.3"/>
<line x1="968.7" y1="882.2" x2="968.7" y2="902.8" stroke="#000" stroke-width="1.7"/>
<line x1="960.7" y1="882.2" x2="976.7" y2="882.2" stroke="#000" stroke-width="1.7"/>
<line x1="960.7" y1="902.8" x2="976.7" y2="902.8" stroke="#000" stroke-width="1.7"/>
<polyline points="925.8,618.1 925.8,602.1 976.1,602.1 976.1,618.1" fill="none" stroke="#000" stroke-width="1.4" stroke-linejoin="miter" stroke-linecap="square"/>
<text font-size="27" text-anchor="middle" transform="translate(951.7 593.3) scale(1 1.04)"><tspan font-style="italic">P</tspan><tspan dx="-1.5"> = 0.11</tspan></text>
<line x1="771" y1="954.5" x2="998.2" y2="954.5" stroke="#000" stroke-width="1.1"/>
<text font-size="27" text-anchor="end" transform="translate(844.5 990.3) rotate(-45) scale(1 1.04)">SM</text>
<text font-size="27" text-anchor="end" transform="translate(959.8 991) rotate(-45) scale(1 1.04)">BAT</text>
<circle cx="1021.1" cy="680.4" r="7.15" fill="#000"/>
<circle cx="1021.1" cy="713.9" r="6.0" fill="#800000" stroke="#000" stroke-width="1.3"/>
<text font-size="27" transform="translate(1039.5 689.8) scale(1 1.04)">IR<tspan dy="-11.44" font-size="19">GFP-Tan</tspan></text>
<text font-size="27" transform="translate(1039.5 724) scale(1 1.04)">IR<tspan dy="-11.44" font-size="19" font-family="DejaVu Sans" font-weight="200" dx="0.8">&#916;</tspan><tspan font-size="19" dx="0.1">Tan</tspan></text>
</svg>
</body></html>
